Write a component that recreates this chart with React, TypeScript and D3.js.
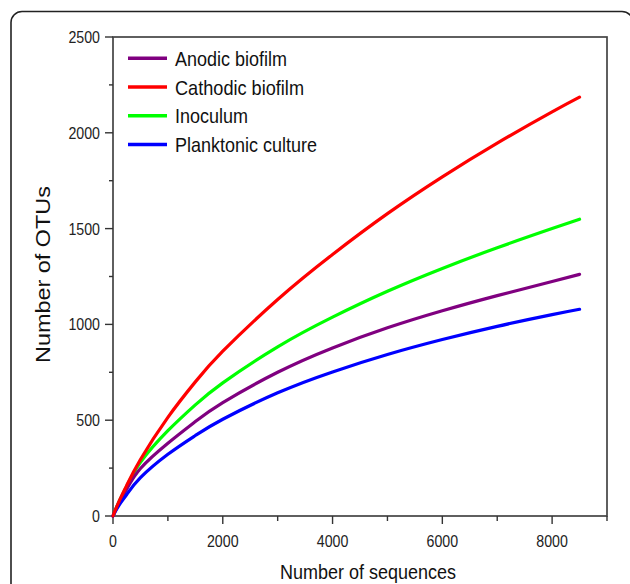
import React, { useEffect, useRef } from "react";
import * as d3 from "d3";

const sequences = [0, 100, 250, 500, 1000, 1500, 2000, 3000, 4000, 5000, 6000, 7000, 8000, 8500];
const anodic = [0, 64, 140, 248, 380, 493, 592, 750, 877, 982, 1071, 1150, 1224, 1261];
const cathodic = [0, 70, 160, 295, 515, 700, 860, 1130, 1365, 1578, 1770, 1946, 2109, 2186];
const inoculum = [0, 68, 155, 280, 445, 580, 695, 883, 1038, 1173, 1292, 1400, 1500, 1549];
const planktonic = [0, 52, 112, 200, 322, 420, 505, 643, 752, 843, 921, 990, 1051, 1079];

const seriesNames = ["Anodic biofilm", "Cathodic biofilm", "Inoculum", "Planktonic culture"];
const seriesColors = ["#800080", "#ff0000", "#00ff00", "#0000ff"];
const xTicks = [0, 2000, 4000, 6000, 8000];
const yTicks = [0, 500, 1000, 1500, 2000, 2500];

const sans = "'Liberation Sans', Arial, sans-serif";
// reference text is condensed, so each label gets its measured width
const legendWidths = [112, 129, 73, 142];

const App = () => {
  const ref = useRef<SVGSVGElement>(null);

  useEffect(() => {
    const svg = d3.select(ref.current);
    svg.selectAll("*").remove();

    const margin = { left: 113, top: 37, right: 23, bottom: 68 };
    const W = 630, H = 584;
    const x = d3.scaleLinear().domain([0, 9000]).range([margin.left, W - margin.right]);
    const y = d3.scaleLinear().domain([0, 2500]).range([H - margin.bottom, margin.top]);

    // outer rounded frame
    svg.append("rect")
      .attr("x", 11).attr("y", 11.5)
      .attr("width", 622).attr("height", 620)
      .attr("rx", 11)
      .style("fill", "none").style("stroke", "#222").style("stroke-width", 1.6);

    // box
    svg.append("rect")
      .attr("x", x(0)).attr("y", y(2500))
      .attr("width", x(9000) - x(0)).attr("height", y(0) - y(2500))
      .style("fill", "none").style("stroke", "#444").style("stroke-width", 1.7);

    // y ticks
    const yAll = d3.range(0, 2501, 250);
    svg.selectAll(".ytick").data(yAll).enter().append("line")
      .attr("x1", (d) => x(0) - (d % 500 === 0 ? 8 : 4)).attr("x2", x(0))
      .attr("y1", (d) => y(d)).attr("y2", (d) => y(d))
      .style("stroke", "#333").style("stroke-width", 1.4);
    svg.selectAll(".ylab").data(yTicks).enter().append("text")
      .attr("x", x(0) - 13).attr("y", (d) => y(d) + 6)
      .attr("text-anchor", "end")
      .attr("textLength", (d) => String(d).length * 7.9)
      .attr("lengthAdjust", "spacingAndGlyphs")
      .style("font-family", sans).style("font-size", "17px").style("fill", "#222")
      .text((d) => d);

    // x ticks
    const xAll = d3.range(0, 9001, 1000);
    svg.selectAll(".xtick").data(xAll).enter().append("line")
      .attr("x1", (d) => x(d)).attr("x2", (d) => x(d))
      .attr("y1", y(0)).attr("y2", (d) => y(0) + (d % 2000 === 0 ? 8 : 5))
      .style("stroke", "#333").style("stroke-width", 1.4);
    svg.selectAll(".xlab").data(xTicks).enter().append("text")
      .attr("x", (d) => x(d)).attr("y", y(0) + 31)
      .attr("text-anchor", "middle")
      .attr("textLength", (d) => String(d).length * 7.9)
      .attr("lengthAdjust", "spacingAndGlyphs")
      .style("font-family", sans).style("font-size", "17px").style("fill", "#222")
      .text((d) => d);

    // axis titles
    svg.append("text")
      .attr("x", 368).attr("y", 579)
      .attr("text-anchor", "middle")
      .attr("textLength", 176).attr("lengthAdjust", "spacingAndGlyphs")
      .style("font-family", sans).style("font-size", "21px").style("fill", "#111")
      .text("Number of sequences");
    svg.append("text")
      .attr("transform", `translate(50,${(y(0) + y(2500)) / 2 - 2}) rotate(-90)`)
      .attr("text-anchor", "middle")
      .attr("textLength", 177).attr("lengthAdjust", "spacingAndGlyphs")
      .style("font-family", sans).style("font-size", "20px").style("fill", "#111")
      .text("Number of OTUs");

    // curves
    const allSeries = [anodic, cathodic, inoculum, planktonic];
    const line = d3.line<number>()
      .x((d, i) => x(sequences[i]))
      .y((d) => y(d))
      .curve(d3.curveNatural);
    // draw order: back to front
    [2, 0, 3, 1].forEach((k) => {
      svg.append("path")
        .attr("d", line(allSeries[k]))
        .style("fill", "none")
        .style("stroke", seriesColors[k])
        .style("stroke-width", 3.2)
        .style("stroke-linecap", "round");
    });

    // legend
    const lg = svg.append("g").attr("transform", "translate(128,58.3)");
    seriesNames.forEach((name, i) => {
      const row = lg.append("g").attr("transform", `translate(0,${i * 28.7})`);
      row.append("line")
        .attr("x1", 0).attr("x2", 39).attr("y1", 0).attr("y2", 0)
        .style("stroke", seriesColors[i]).style("stroke-width", 3.5);
      row.append("text")
        .attr("x", 47).attr("y", 7.5)
        .attr("textLength", legendWidths[i]).attr("lengthAdjust", "spacingAndGlyphs")
        .style("font-family", sans).style("font-size", "21px").style("fill", "#111")
        .text(name);
    });
  }, []);

  return (
    <svg
      ref={ref}
      width={630}
      height={584}
      style={{ position: "absolute", left: 0, top: 0, background: "#fff" }}
    />
  );
};

export default App;
